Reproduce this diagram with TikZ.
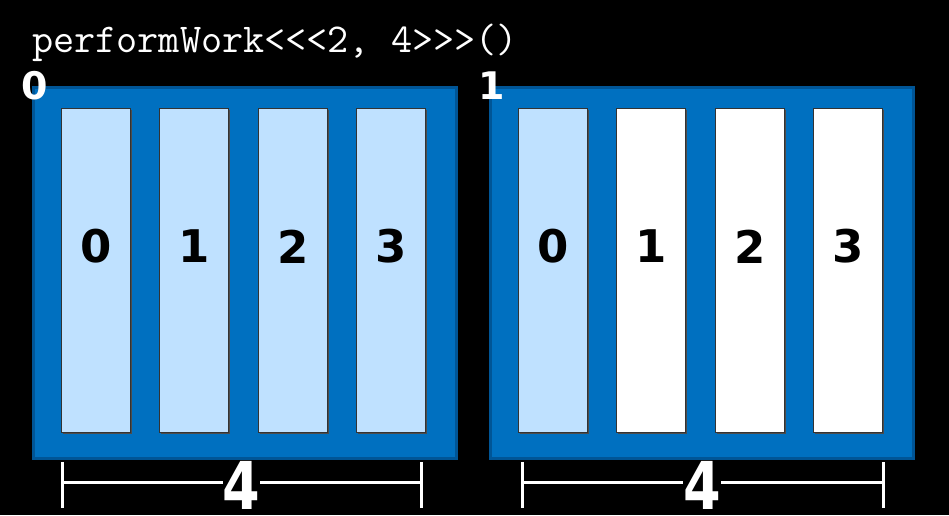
\documentclass[tikz,border=0pt]{standalone}
\usepackage{fontspec}
\setmainfont{DejaVu Sans}
\definecolor{blockblue}{RGB}{0,112,192}
\definecolor{blockedge}{RGB}{0,85,150}
\definecolor{lightblue}{RGB}{191,225,255}
\tikzset{
  blockbox/.style={fill=blockblue, draw=blockedge, line width=3pt, minimum width=423pt, minimum height=371pt, inner sep=0pt, anchor=north west},
  thr/.style={draw=black!80, line width=0.8pt, minimum width=69pt, minimum height=324pt, inner sep=0pt, anchor=north west},
  thrlabel/.style={font=\bfseries\fontsize{45}{45}\selectfont, text=black, inner sep=0pt},
  blklabel/.style={font=\bfseries\fontsize{38}{38}\selectfont, text=white, inner sep=0pt},
  dimline/.style={draw=white, line width=3pt},
  dimlabel/.style={font=\bfseries\fontsize{66}{66}\selectfont, text=white, inner sep=0pt, xscale=0.82}
}
\begin{document}
\begin{tikzpicture}[x=1pt,y=-1pt]
\fill[black] (0,0) rectangle (949,515);
\useasboundingbox (0,0) rectangle (949,515);
\node[font=\ttfamily\fontsize{41}{41}\selectfont, text=white, anchor=base west, inner sep=0pt] (title) at (32,52) {performWork<<<2, 4>>>()};
% blocks
\node[blockbox] (b0) at (31.5,85.5) {};
\node[blockbox] (b1) at (488.5,85.5) {};
% threads block 0
\foreach \i/\x in {0/61,1/159,2/258,3/356}{
  \fill[black!70] (\x+2,110) rectangle (\x+71,434);
  \node[thr, fill=lightblue] (t0\i) at (\x,108) {};
  \node[thrlabel] at ([yshift=24pt]t0\i.center) {\i};
}
% threads block 1
\foreach \i/\x/\c in {0/518/lightblue,1/616/white,2/715/white,3/813/white}{
  \fill[black!70] (\x+2,110) rectangle (\x+71,434);
  \node[thr, fill=\c] (t1\i) at (\x,108) {};
  \node[thrlabel] at ([yshift=24pt]t1\i.center) {\i};
}
% block labels
\node[blklabel, anchor=center] (l0) at (34.5,86) {0};
\node[blklabel, anchor=center] (l1) at (492,86) {1};
% dimension labels
\node[dimlabel, anchor=north] (n0) at (241.5,461) {4};
\node[dimlabel, anchor=north] (n1) at (702,461) {4};
% dimension brackets
\coordinate (d0a) at (62,462); \coordinate (d0b) at (421,462);
\coordinate (d1a) at (522,462); \coordinate (d1b) at (883,462);
\draw[dimline] (d0a) -- ++(0,46) (d0b) -- ++(0,46);
\draw[dimline] ([yshift=-20pt]d0a) -- ([yshift=-20pt]d0a -| n0.west) ([yshift=-20pt]d0b -| n0.east) -- ([yshift=-20pt]d0b);
\draw[dimline] (d1a) -- ++(0,46) (d1b) -- ++(0,46);
\draw[dimline] ([yshift=-20pt]d1a) -- ([yshift=-20pt]d1a -| n1.west) ([yshift=-20pt]d1b -| n1.east) -- ([yshift=-20pt]d1b);
\end{tikzpicture}
\end{document}
